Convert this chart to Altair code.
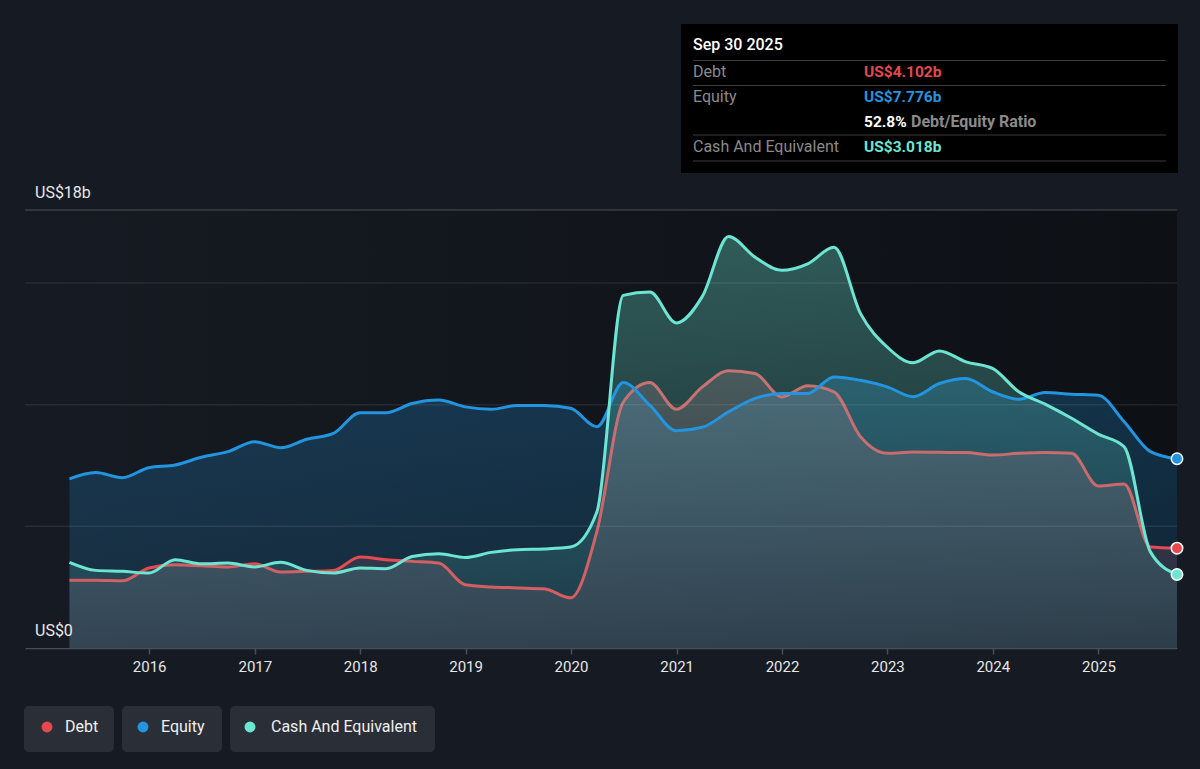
import altair as alt
import pandas as pd

# ---------------- data (quarter ends, US$ billions) ----------------
dates = [
    "2015-03-31", "2015-06-30", "2015-09-30", "2015-12-31",
    "2016-03-31", "2016-06-30", "2016-09-30", "2016-12-31",
    "2017-03-31", "2017-06-30", "2017-09-30", "2017-12-31",
    "2018-03-31", "2018-06-30", "2018-09-30", "2018-12-31",
    "2019-03-31", "2019-06-30", "2019-09-30", "2019-12-31",
    "2020-03-31", "2020-06-30", "2020-09-30", "2020-12-31",
    "2021-03-31", "2021-06-30", "2021-09-30", "2021-12-31",
    "2022-03-31", "2022-06-30", "2022-09-30", "2022-12-31",
    "2023-03-31", "2023-06-30", "2023-09-30", "2023-12-31",
    "2024-03-31", "2024-06-30", "2024-09-30", "2024-12-31",
    "2025-03-31", "2025-06-30", "2025-09-30",
]
debt = [2.78, 2.78, 2.76, 3.29, 3.42, 3.38, 3.33, 3.46, 3.12, 3.15, 3.19, 3.74,
        3.63, 3.56, 3.49, 2.60, 2.51, 2.47, 2.43, 2.06, 4.80, 10.10, 10.91, 9.81,
        10.73, 11.39, 11.28, 10.32, 10.78, 10.53, 8.68, 8.00, 8.05, 8.04, 8.03, 7.93,
        8.00, 8.03, 8.00, 6.66, 6.74, 4.15, 4.102]
equity = [6.95, 7.21, 7.00, 7.41, 7.52, 7.84, 8.07, 8.48, 8.23, 8.58, 8.82, 9.67,
          9.67, 10.05, 10.19, 9.91, 9.81, 9.97, 9.97, 9.85, 9.09, 10.91, 9.98, 8.93,
          9.07, 9.71, 10.26, 10.46, 10.46, 11.14, 11.00, 10.73, 10.33, 10.87, 11.08, 10.53,
          10.22, 10.50, 10.43, 10.39, 9.30, 8.07, 7.776]
cash = [3.52, 3.19, 3.15, 3.08, 3.63, 3.46, 3.49, 3.33, 3.52, 3.19, 3.08, 3.29,
        3.26, 3.76, 3.87, 3.72, 3.93, 4.04, 4.07, 4.15, 5.60, 14.49, 14.63, 13.36,
        14.45, 16.91, 16.06, 15.52, 15.79, 16.47, 13.74, 12.37, 11.72, 12.21, 11.76, 11.49,
        10.53, 10.02, 9.44, 8.79, 8.27, 3.95, 3.018]

year_ticks = list(range(2016, 2026))
grid_values = [5, 10, 15]
top_value = [18]
y_labels = ["US$18b", "US$0"]
y_label_values = [18, 0]

legend_names = ["Debt", "Equity", "Cash And Equivalent"]
tip_date = "Sep 30 2025"
tip_debt = "US$4.102b"
tip_equity = "US$7.776b"
tip_ratio = "52.8%"
tip_cash = "US$3.018b"

# ---------------- styling ----------------
W, H = 1152, 438
BG = "#161b23"
RED, BLUE, TEAL = "#e5484d", "#2394df", "#6ce5d3"
FONT = "Roboto"

df = pd.DataFrame({"date": dates, "Debt": debt, "Equity": equity, "Cash": cash})
last = df.iloc[[-1]]
one = pd.DataFrame({"d": [0]})

xscale = alt.Scale(type="utc", domain=["2014-10-28", "2025-09-30"])
yscale = alt.Scale(domain=[0, 18])
xaxis = alt.Axis(
    values=[alt.DateTime(year=y, month=1, date=1, utc=True) for y in year_ticks],
    format="%Y", labelColor="#e6e6e6", labelFont=FONT, labelFontSize=15,
    labelPadding=5, tickColor="#4a4f57", tickSize=6, tickWidth=1.5,
    domainColor="#4a4f57", domainWidth=1.5, grid=False, labelFlush=False,
)
X = alt.X("date:T", scale=xscale, axis=xaxis, title=None)


def Y(field):
    return alt.Y(f"{field}:Q", scale=yscale, axis=None)


def grad(rgb, a_top, a_bot):
    return alt.Gradient(
        gradient="linear",
        stops=[alt.GradientStop(color=f"rgba({rgb},{a_top})", offset=0),
               alt.GradientStop(color=f"rgba({rgb},{a_bot})", offset=1)],
        x1=0, x2=0, y1=0, y2=1,
    )


base = alt.Chart(df)

bg_rect = alt.Chart(one).mark_rect(
    color=alt.Gradient(
        gradient="linear",
        stops=[alt.GradientStop(color="#161b23", offset=0),
               alt.GradientStop(color="#0d1015", offset=1)],
        x1=0, x2=1, y1=0, y2=0,
    )
).encode(x=alt.value(0), x2=alt.value(W), y=alt.value(0), y2=alt.value(H))

eq_area = base.mark_area(interpolate="monotone", color=grad("35,148,223", 0.26, 0.14)).encode(x=X, y=Y("Equity"))
debt_line = base.mark_line(interpolate="monotone", color=RED, strokeWidth=3).encode(x=X, y=Y("Debt"))
debt_area = base.mark_area(interpolate="monotone", color=grad("200,110,130", 0.24, 0.12)).encode(x=X, y=Y("Debt"))
cash_area = base.mark_area(interpolate="monotone", color=grad("108,229,211", 0.34, 0.09)).encode(x=X, y=Y("Cash"))

grid = alt.Chart(pd.DataFrame({"g": grid_values})).mark_rule(color="white", opacity=0.08, strokeWidth=1.5).encode(
    y=alt.Y("g:Q", scale=yscale, axis=None), x=alt.value(0), x2=alt.value(W))
grid_top = alt.Chart(pd.DataFrame({"g": top_value})).mark_rule(color="white", opacity=0.16, strokeWidth=1.5).encode(
    y=alt.Y("g:Q", scale=yscale, axis=None), x=alt.value(0), x2=alt.value(W))

eq_line = base.mark_line(interpolate="monotone", color=BLUE, strokeWidth=3).encode(x=X, y=Y("Equity"))
cash_line = base.mark_line(interpolate="monotone", color=TEAL, strokeWidth=3).encode(x=X, y=Y("Cash"))

dots = []
for field, col in [("Equity", BLUE), ("Debt", RED), ("Cash", TEAL)]:
    dots.append(alt.Chart(last).mark_circle(size=130, opacity=1, color=col, stroke="white", strokeWidth=1.5)
                .encode(x=X, y=Y(field)))

ylab = alt.Chart(pd.DataFrame({"v": y_label_values, "t": y_labels})).mark_text(
    align="left", baseline="alphabetic", dy=-12, font=FONT, fontSize=16, color="#e8e8e8"
).encode(x=alt.value(10), y=alt.Y("v:Q", scale=yscale, axis=None), text="t:N")


def txt(s, x, y, color, size=16, weight="normal", align="left"):
    return alt.Chart(one).mark_text(
        align=align, baseline="middle", font=FONT, fontSize=size, fontWeight=weight, color=color
    ).encode(x=alt.value(x), y=alt.value(y), text=alt.value(s))


def box(x, x2, y, y2, color, radius=0):
    return alt.Chart(one).mark_rect(color=color, cornerRadius=radius).encode(
        x=alt.value(x), x2=alt.value(x2), y=alt.value(y), y2=alt.value(y2))


def hline(x, x2, y, color):
    return alt.Chart(one).mark_rule(color=color, strokeWidth=1).encode(
        x=alt.value(x), x2=alt.value(x2), y=alt.value(y))


# tooltip box (plot origin at page 25,210)
tip = [
    box(656, 1153, -186, -37, "#000000"),
    txt(tip_date, 668, -165, "#ffffff", 16, 500),
    hline(668, 1141, -149.5, "#3a3a3a"),
    txt("Debt", 668, -138, "#8a8a8a"),
    txt(tip_debt, 839, -138, RED, 15.5, "bold"),
    hline(668, 1141, -124.5, "#3a3a3a"),
    txt("Equity", 668, -113, "#8a8a8a"),
    txt(tip_equity, 839, -113, BLUE, 15.5, "bold"),
    txt(tip_ratio, 839, -88, "#ffffff", 15.5, "bold"),
    txt("Debt/Equity Ratio", 886, -88, "#8a8a8a", 16, "bold"),
    hline(668, 1141, -75, "#3a3a3a"),
    txt("Cash And Equivalent", 668, -63, "#8a8a8a"),
    txt(tip_cash, 839, -63, TEAL, 15.5, "bold"),
    hline(668, 1141, -49, "#3a3a3a"),
]

# legend
legend = []
for (bx, bx2, dx, tx), name, col in zip(
    [(-1, 89, 22, 40), (97, 197, 118, 136), (205, 410, 225, 246)], legend_names, [RED, BLUE, TEAL]
):
    legend.append(box(bx, bx2, 496, 542, "#2a2f37", 5))
    legend.append(alt.Chart(one).mark_circle(size=120, opacity=1, color=col).encode(x=alt.value(dx), y=alt.value(517)))
    legend.append(txt(name, tx, 517, "#f0f0f0", 16))

chart = alt.layer(
    bg_rect, eq_area, debt_line, debt_area, cash_area, grid, grid_top,
    eq_line, cash_line, *dots, ylab, *tip, *legend
).properties(
    width=W, height=H,
    autosize=alt.AutoSizeParams(type="none"),
    padding={"left": 25, "top": 210, "right": 23, "bottom": 121},
    background=BG,
).configure_view(stroke="transparent")

chart.save("out.html", embed_options={"renderer": "svg", "actions": False})
